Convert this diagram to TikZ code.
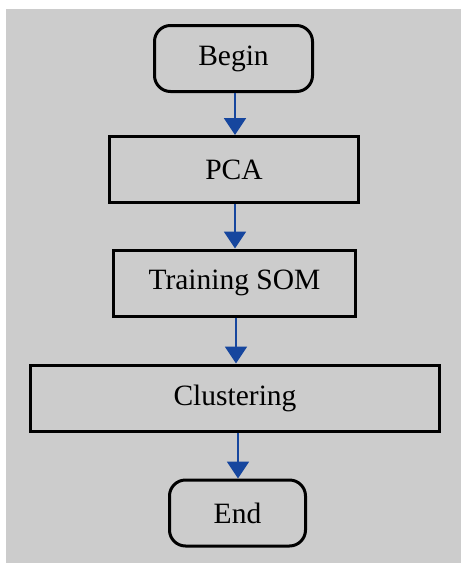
\documentclass[tikz,border=0pt]{standalone}
\usepackage{fontspec}
\setmainfont{Liberation Serif}
\usetikzlibrary{arrows.meta}
\definecolor{bggray}{RGB}{204,204,204}
\definecolor{flowblue}{RGB}{22,70,158}

\begin{document}
\begin{tikzpicture}[x=1pt,y=-1pt]
\tikzstyle{every node}=[font=\fontsize{29.5}{35}\selectfont]
\tikzstyle{term}=[draw,line width=3pt,rounded corners=16pt,minimum height=66pt,inner sep=0pt]
\tikzstyle{proc}=[draw,line width=3pt,minimum height=66pt,inner sep=0pt]
\tikzstyle{flow}=[draw=flowblue,line width=2pt,-{Triangle[width=22pt,length=17pt]}]
\useasboundingbox (0,0) rectangle (461,563);
\fill[bggray] (6,9) rectangle (461,563);
\node[term,minimum width=158pt] (begin) at (233.5,58.5) {Begin};
\node[proc,minimum width=249pt] (pca) at (234,169.5) {PCA};
\node[proc,minimum width=242pt] (som) at (234.5,283) {Training SOM};
\node[proc,minimum width=409pt] (clus) at (235,398) {Clustering};
\node[term,minimum width=136pt] (end) at (237.5,513) {End};
\draw[flow] (begin.south -| 235,0) -- (pca.north -| 235,0);
\draw[flow] (pca.south -| 235,0) -- (som.north -| 235,0);
\draw[flow] (som.south -| 236,0) -- (clus.north -| 236,0);
\draw[flow] (clus.south -| 238,0) -- (end.north -| 238,0);
\end{tikzpicture}
\end{document}
